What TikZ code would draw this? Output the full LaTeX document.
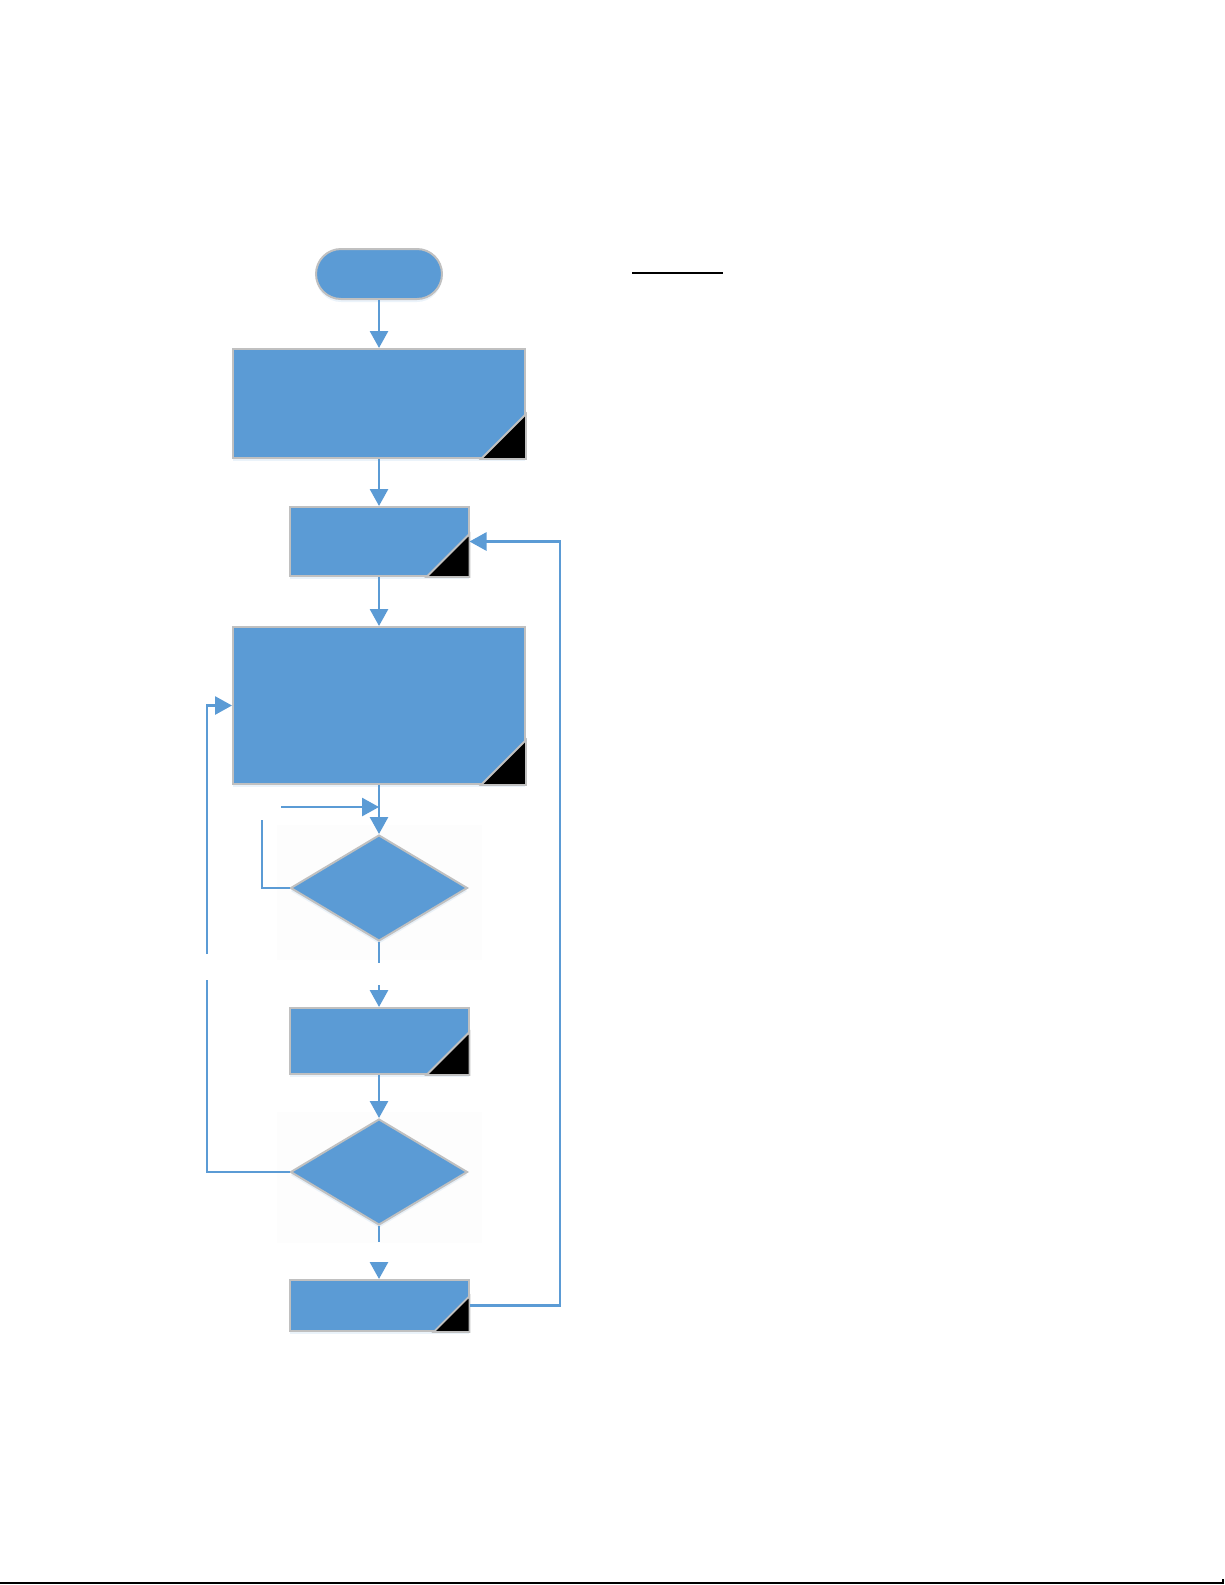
\documentclass[tikz,border=0pt]{standalone}
\usetikzlibrary{shapes.geometric,shapes.misc,arrows.meta,shadows}
\definecolor{fc}{HTML}{5B9BD5}
\definecolor{bc}{HTML}{C0C0C0}
\definecolor{faint}{HTML}{FDFDFD}
\newcommand\cornerflag[2]{%
  \filldraw[fill=black,draw=bc,line width=0.9pt]
    ([xshift=-#2]#1.south east) -- (#1.south east) -- ([yshift=#2]#1.south east) -- cycle;}
\begin{document}
\begin{tikzpicture}[x=0.5pt,y=-0.5pt,
  box/.style={rectangle,draw=bc,line width=1pt,fill=fc,inner sep=0pt,
    drop shadow={opacity=0.12,shadow xshift=0pt,shadow yshift=-1.5pt,fill=fc}},
  termbox/.style={box,rounded rectangle},
  decbox/.style={box,diamond},
  conn/.style={draw=fc,line width=1.4pt},
  arr/.style={conn,-{Triangle[length=8.5pt,width=9pt]}}]
\useasboundingbox (0,0) rectangle (1225,1585);
% faint backgrounds behind the decisions
\fill[faint] (277,825) rectangle (482,960);
\fill[faint] (277,1112) rectangle (482,1243);
% nodes
\node[termbox,minimum width=63pt,minimum height=25pt] (t) at (379,274) {};
\node[box,minimum width=146pt,minimum height=54.5pt] (b1) at (379,403.5) {};
\node[box,minimum width=89.5pt,minimum height=34.5pt] (b2) at (379,541.5) {};
\node[box,minimum width=146pt,minimum height=78.5pt] (b3) at (379,705.5) {};
\node[decbox,minimum width=88.5pt,minimum height=53pt] (d1) at (379,888) {};
\node[box,minimum width=89.5pt,minimum height=33pt] (b4) at (379,1041) {};
\node[decbox,minimum width=88.5pt,minimum height=53pt] (d2) at (379,1172) {};
\node[box,minimum width=89.5pt,minimum height=25.5pt] (b5) at (379,1305.5) {};
\cornerflag{b1}{22.5pt}
\cornerflag{b2}{21.5pt}
\cornerflag{b3}{22.5pt}
\cornerflag{b4}{21.5pt}
\cornerflag{b5}{18pt}
% free ends
\coordinate (h1) at (281,807);
\coordinate (l1) at (262,820);
\coordinate (g1a) at (379,963);
\coordinate (g1b) at (379,985);
\coordinate (g2a) at (379,1242);
\coordinate (g2b) at (379,1262);
\coordinate (v2a) at (207,980);
\coordinate (v2b) at (207,954);
\coordinate (rr) at (560,1306);
% connectors
\draw[arr] (t) -- (b1);
\draw[arr] (b1) -- (b2);
\draw[arr] (b2) -- (b3);
\draw[arr] (b3.south) -- (d1.north);
\draw[arr] (h1) -- (b3.south |- h1);
\draw[conn] (d1.west) -| (l1);
\draw[conn] (d1.south) -- (g1a);
\draw[arr] (g1b) -- (b4.north);
\draw[arr] (b4) -- (d2);
\draw[conn] (d2.west) -| (v2a);
\draw[arr] (v2b) |- (b3.west);
\draw[conn] (d2.south) -- (g2a);
\draw[arr] (g2b) -- (b5.north);
\draw[arr] (b5.east) -| (rr |- b2.east) -- (b2.east);
% underline and bottom rule
\draw[line width=1.2pt] (632,273) -- (723,273);
\draw[line width=1.2pt] (0,1583) -- (1223,1583) -- (1223,1579);
\end{tikzpicture}
\end{document}
